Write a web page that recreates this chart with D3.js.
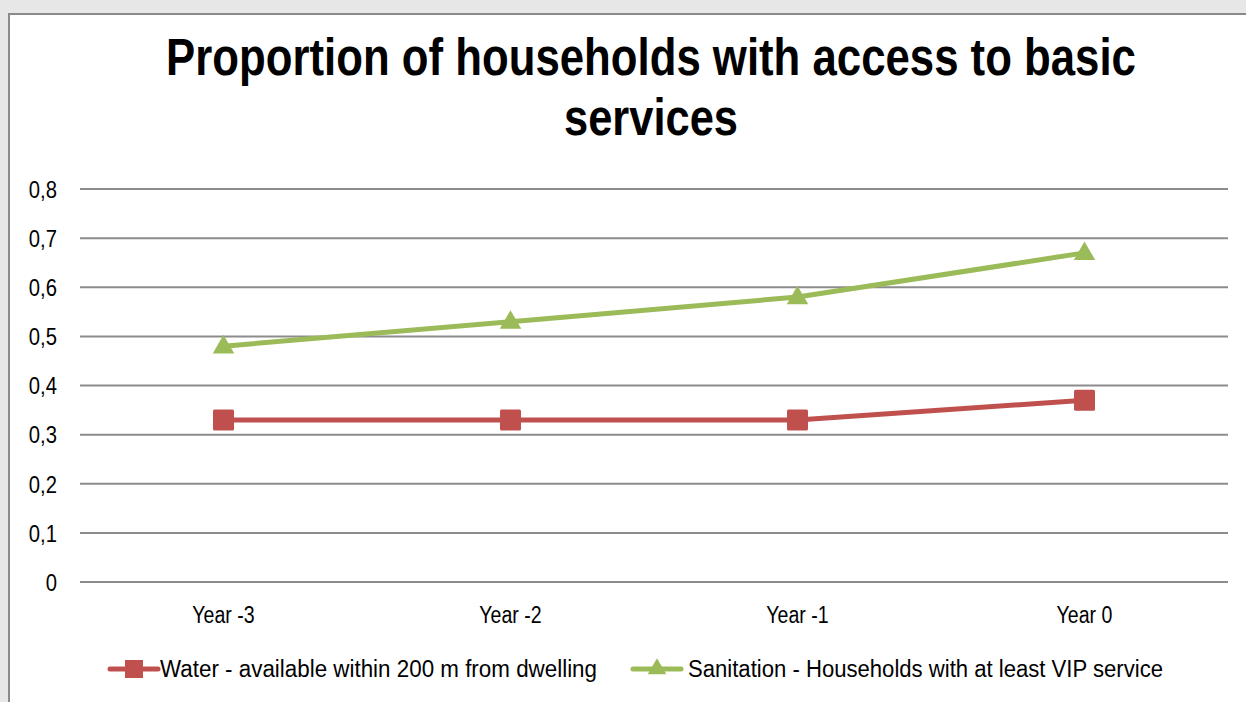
<!DOCTYPE html>
<html>
<head>
<meta charset="utf-8">
<script src="https://cdn.jsdelivr.net/npm/d3@7"></script>
<style>
  html, body { margin: 0; padding: 0; background: #e7e7e7; }
  svg { display: block; }
  text { font-family: "Liberation Sans Narrow", "Arial Narrow", "Liberation Sans", Arial, sans-serif; fill: #000; }
</style>
</head>
<body>
<script>
// Chart data
const categories = ["Year -3", "Year -2", "Year -1", "Year 0"];
const waterValues = [0.33, 0.33, 0.33, 0.37];
const sanitationValues = [0.48, 0.53, 0.58, 0.67];
const yTicks = [0, 0.1, 0.2, 0.3, 0.4, 0.5, 0.6, 0.7, 0.8];
const seriesNames = [
  "Water - available within 200 m from dwelling",
  "Sanitation - Households with at least VIP service"
];
const titleLines = ["Proportion of households with access to basic", "services"];

const W = 1246, H = 702;
const svg = d3.select("body").append("svg").attr("width", W).attr("height", H);

// Condense a text selection horizontally (narrow face look)
function condense(sel, factor) {
  sel.each(function () {
    const len = this.getComputedTextLength();
    d3.select(this).attr("textLength", len * factor).attr("lengthAdjust", "spacingAndGlyphs");
  });
}

// Chart area panel with border
svg.append("rect")
  .attr("x", 9).attr("y", 14).attr("width", W + 20).attr("height", H + 20)
  .attr("fill", "#fff").attr("stroke", "#8a8a8a").attr("stroke-width", 2);

// Title, squeezed horizontally with a transform so its box stays inside the panel
const titleWidths = [970, 174];
svg.selectAll("text.title").data(titleLines).join("text")
  .attr("class", "title")
  .attr("x", 0).attr("y", 0)
  .attr("text-anchor", "middle")
  .attr("font-size", 52).attr("font-weight", "bold")
  .text(d => d)
  .each(function (d, i) {
    const k = titleWidths[i] / this.getComputedTextLength();
    d3.select(this).attr("transform", `translate(651,${75 + i * 60}) scale(${k},1)`);
  });

const plot = { left: 80, right: 1228, top: 189, bottom: 582 };

const x = d3.scaleBand().domain(categories).range([plot.left, plot.right]);
const y = d3.scaleLinear().domain([0, 0.8]).range([plot.bottom, plot.top]);
const fmt = v => d3.format(".1~f")(v).replace(".", ",");

// Gridlines
svg.append("g")
  .selectAll("line").data(yTicks).join("line")
  .attr("x1", plot.left).attr("x2", plot.right)
  .attr("y1", d => y(d)).attr("y2", d => y(d))
  .attr("stroke", "#8c8c8c").attr("stroke-width", 2);

// Y axis labels
const yAxis = svg.append("g")
  .attr("transform", `translate(${plot.left - 23},0)`)
  .call(d3.axisLeft(y).tickValues(yTicks).tickFormat(fmt).tickSize(0).tickPadding(0));
yAxis.select(".domain").remove();
yAxis.selectAll("text").attr("font-size", 23).attr("font-family", null).attr("fill", "#000").attr("dy", "0.36em")
  .call(condense, 0.88);

// X axis labels
const xAxis = svg.append("g")
  .attr("transform", `translate(0,${plot.bottom + 24})`)
  .call(d3.axisBottom(x).tickSize(0).tickPadding(0));
xAxis.select(".domain").remove();
xAxis.selectAll("text").attr("font-size", 23).attr("font-family", null).attr("fill", "#000").attr("dy", "0.72em")
  .call(condense, 0.85);

const cx = d => x(d) + x.bandwidth() / 2;
const red = "#C0504D", green = "#9BBB59";

const line = d3.line().x(d => cx(d.c)).y(d => y(d.v));
const toPts = vals => categories.map((c, i) => ({ c, v: vals[i] }));

const triangle = d3.symbol().type(d3.symbolTriangle).size(200);

function drawSeries(vals, color, kind) {
  const pts = toPts(vals);
  svg.append("path").datum(pts)
    .attr("d", line).attr("fill", "none")
    .attr("stroke", color).attr("stroke-width", 5).attr("stroke-linejoin", "round");
  if (kind === "square") {
    svg.append("g").selectAll("rect").data(pts).join("rect")
      .attr("x", d => cx(d.c) - 10.5).attr("y", d => y(d.v) - 10.5)
      .attr("width", 21).attr("height", 21).attr("rx", 1.5)
      .attr("fill", color);
  } else {
    svg.append("g").selectAll("path").data(pts).join("path")
      .attr("d", triangle)
      .attr("transform", d => `translate(${cx(d.c)},${y(d.v) + 1})`)
      .attr("fill", color);
  }
}
drawSeries(waterValues, red, "square");
drawSeries(sanitationValues, green, "triangle");

// Legend
const legendItems = [
  { name: seriesNames[0], color: red, kind: "square", x0: 110, tx: 160, tw: 437 },
  { name: seriesNames[1], color: green, kind: "triangle", x0: 633, tx: 688, tw: 475 }
];
const ly = 669;
legendItems.forEach(it => {
  const g = svg.append("g");
  g.append("line").attr("x1", it.x0).attr("x2", it.x0 + 48)
    .attr("y1", ly).attr("y2", ly)
    .attr("stroke", it.color).attr("stroke-width", 5).attr("stroke-linecap", "round");
  if (it.kind === "square") {
    g.append("rect").attr("x", it.x0 + 24 - 9).attr("y", ly - 9)
      .attr("width", 18).attr("height", 18).attr("fill", it.color);
  } else {
    g.append("path").attr("d", d3.symbol().type(d3.symbolTriangle).size(150))
      .attr("transform", `translate(${it.x0 + 24},${ly})`).attr("fill", it.color);
  }
  g.append("text").attr("x", it.tx).attr("y", ly + 8)
    .attr("font-size", 23)
    .attr("textLength", it.tw).attr("lengthAdjust", "spacingAndGlyphs")
    .text(it.name);
});
</script>
</body>
</html>
